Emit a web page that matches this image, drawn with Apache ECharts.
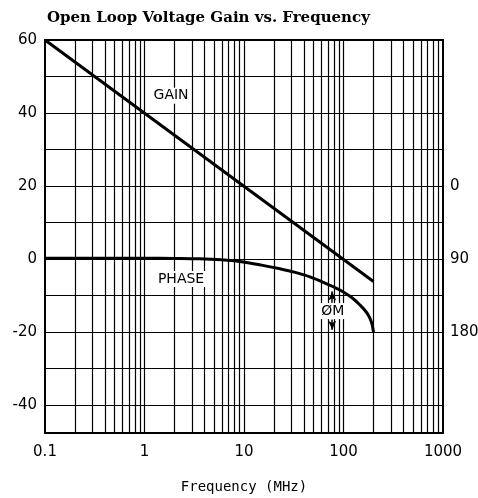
<!DOCTYPE html>
<html>
<head>
<meta charset="utf-8">
<script src="https://cdn.jsdelivr.net/npm/echarts@6/dist/echarts.min.js"></script>
<style>html,body{margin:0;padding:0;background:#fff;}#c{width:478px;height:498px;}</style>
</head>
<body>
<div id="c"></div>
<script>
// ---- data ----
const titleText = 'Open Loop Voltage Gain vs. Frequency';
const xAxisTitle = 'Frequency (MHz)';
const xTickLabels = ['0.1', '1', '10', '100', '1000'];
const yLeftTicks = [60, 40, 20, 0, -20, -40];
const yRightTicks = [20, 0, -20];
const yRightLabels = ['0', '90', '180'];
const yGridLines = [50, 40, 30, 20, 10, 0, -10, -20, -30, -40];
const xGridLines = [0.2,0.3,0.4,0.5,0.6,0.7,0.8,0.9,1,2,3,4,5,6,7,8,9,10,20,30,40,50,60,70,80,90,100,200,300,400,500,600,700,800,900];
const gainFreq = [0.1, 200];
const gainDb = [60, -6.2];
const phaseFreq = [0.1, 1, 2, 3.6, 6, 9, 15, 23, 32, 46, 65, 92, 120, 146, 170, 184, 194, 200];
const phaseVal = [0.2, 0.2, 0.15, 0.05, -0.25, -0.7, -1.7, -2.7, -3.6, -4.9, -6.6, -8.5, -10.5, -12.6, -14.6, -16.2, -18.0, -20];
const annotations = [
  {text: 'GAIN', freq: 1.85, val: 44.7},
  {text: 'PHASE', freq: 2.33, val: -5.5},
  {text: 'ØM', freq: 78, val: -14.3}
];
const marginArrowFreq = 77;
const marginArrowUp = [-12.0, -8.9];
const marginArrowDown = [-16.6, -19.4];

const chart = echarts.init(document.getElementById('c'), null, {renderer: 'canvas'});
const sans = 'DejaVu Sans';
const gridStyle = {color: '#000', width: 1.2, type: 'solid'};

const option = {
  backgroundColor: '#fff',
  animation: false,
  title: {
    text: titleText, left: 42, top: 6,
    textStyle: {fontFamily: 'DejaVu Serif', fontWeight: 'bold', fontSize: 15, color: '#000'}
  },
  grid: {left: 45, right: 35, top: 40, bottom: 65, outerBoundsMode: 'none', containLabel: false,
    show: true, borderColor: '#000', borderWidth: 2, backgroundColor: 'transparent'},
  xAxis: {
    type: 'log', logBase: 10, min: 0.1, max: 1000,
    name: xAxisTitle, nameLocation: 'middle', nameGap: 47,
    nameTextStyle: {fontFamily: 'DejaVu Sans Mono', fontSize: 14, color: '#000'},
    axisLine: {show: false}, axisTick: {show: false},
    splitLine: {show: false}, minorSplitLine: {show: false},
    axisLabel: {
      margin: 12, fontFamily: sans, fontSize: 15, color: '#000',
      formatter: v => xTickLabels[Math.round(Math.log10(v)) + 1]
    }
  },
  yAxis: [
    {
      type: 'value', min: -47.7, max: 60, position: 'left',
      axisLine: {show: false}, axisTick: {show: false}, splitLine: {show: false},
      axisLabel: {customValues: yLeftTicks, margin: 8, fontFamily: sans, fontSize: 15, color: '#000',
        formatter: v => String(Math.round(v))}
    },
    {
      type: 'value', min: -47.7, max: 60, position: 'right',
      axisLine: {show: false}, axisTick: {show: false}, splitLine: {show: false},
      axisLabel: {customValues: yRightTicks, margin: 7, fontFamily: sans, fontSize: 15, color: '#000',
        formatter: v => yRightLabels[yRightTicks.indexOf(Math.round(v))]}
    }
  ],
  series: [
    {
      type: 'line', name: 'grid', data: [], silent: true,
      markLine: {
        silent: true, symbol: 'none', animation: false,
        label: {show: false}, lineStyle: gridStyle,
        emphasis: {disabled: true},
        data: yGridLines.map(v => ({yAxis: v})).concat(xGridLines.map(v => ({xAxis: v})))
      }
    },
    {
      type: 'line', name: 'gain', showSymbol: false, symbol: 'none',
      lineStyle: {color: '#000', width: 3}, z: 5,
      data: gainFreq.map((f, i) => [f, gainDb[i]])
    },
    {
      type: 'line', name: 'phase', showSymbol: false, symbol: 'none', smooth: 0.35,
      lineStyle: {color: '#000', width: 3}, z: 5,
      data: phaseFreq.map((f, i) => [f, phaseVal[i]])
    },
    {
      type: 'scatter', name: 'labels', symbolSize: 0, z: 6, silent: true,
      itemStyle: {opacity: 1},
      label: {show: true, position: 'inside', fontFamily: sans, fontSize: 14, color: '#000', opacity: 1,
        backgroundColor: '#fff', padding: [1, 2],
        formatter: p => p.data.name},
      data: annotations.map(a => ({name: a.text, value: [a.freq, a.val]})),
      markLine: {
        silent: true, symbol: ['none', 'arrow'], symbolSize: [6, 9], animation: false,
        label: {show: false}, lineStyle: {color: '#000', width: 1.5, type: 'solid'},
        data: [
          [{coord: [marginArrowFreq, marginArrowUp[0]]}, {coord: [marginArrowFreq, marginArrowUp[1]]}],
          [{coord: [marginArrowFreq, marginArrowDown[0]]}, {coord: [marginArrowFreq, marginArrowDown[1]]}]
        ]
      }
    }
  ]
};
chart.setOption(option);
</script>
</body>
</html>
